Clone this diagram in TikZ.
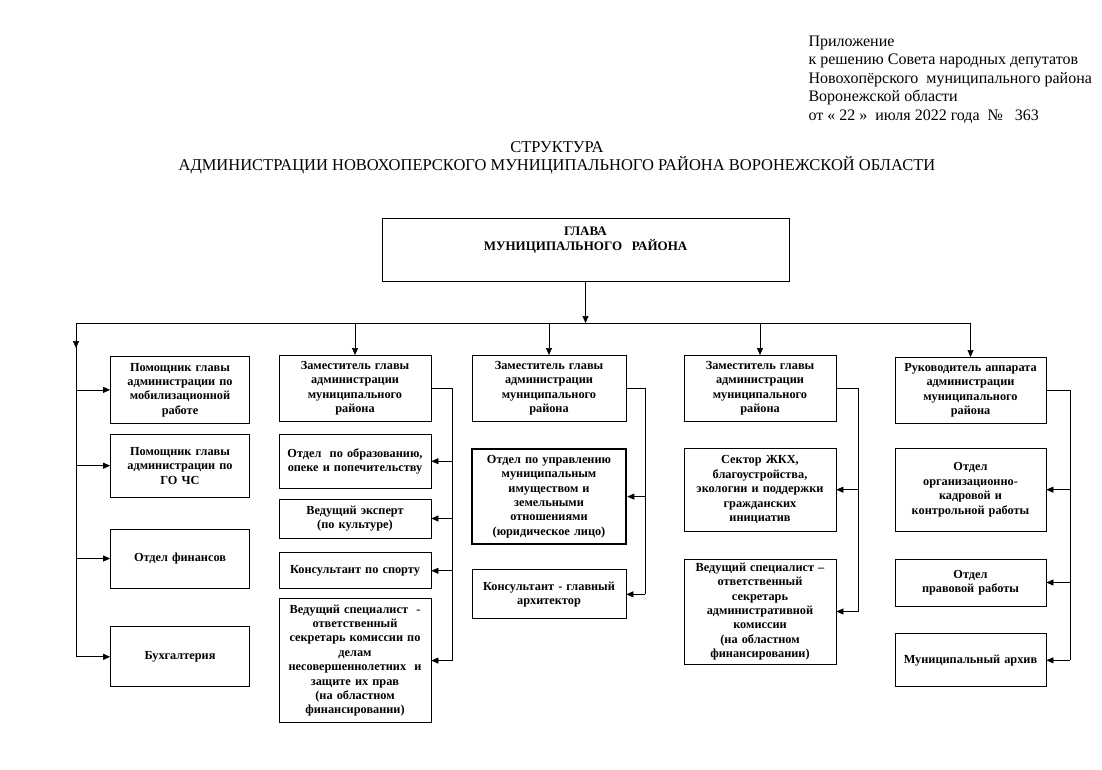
\documentclass[tikz,border=0pt]{standalone}
\usepackage{fontspec}
\setmainfont{Liberation Serif}
\usetikzlibrary{arrows.meta,positioning}

\tikzset{
  unit/.style={draw, line width=0.8pt, align=center, inner sep=2pt,
    font=\fontsize{12.3}{14.4}\selectfont\bfseries},
  narrow/.style={unit, text width=135pt},
  wide/.style={unit, text width=148pt, minimum height=66pt},
  link/.style={line width=0.7pt}
}

\begin{document}
\begin{tikzpicture}[x=1pt,y=-1pt,>={Triangle[length=7pt,width=6pt]},node distance=10pt]

\useasboundingbox (0,0) rectangle (1102,770);

\node[anchor=north west, align=left, font=\fontsize{16}{18.5}\selectfont] (prilozh) at (805,32)
  {Приложение\\к решению Совета народных депутатов\\Новохопёрского~ муниципального района\\Воронежской области\\от « 22 »~ июля 2022 года~ №~~ 363};

\node[align=center, font=\fontsize{16.5}{18}\selectfont] (titul) at (557,158)
  {СТРУКТУРА\\АДМИНИСТРАЦИИ НОВОХОПЕРСКОГО МУНИЦИПАЛЬНОГО РАЙОНА ВОРОНЕЖСКОЙ ОБЛАСТИ};

\node[draw, line width=0.8pt, minimum width=407pt, minimum height=63pt, inner sep=0pt,
  font=\fontsize{13}{15}\selectfont\bfseries] (glava) at (585.5,249.5)
  {\parbox[c][46pt][t]{400pt}{\centering ГЛАВА\\МУНИЦИПАЛЬНОГО~~ РАЙОНА}};

\node[narrow, minimum height=67pt, anchor=north] (pom1) at (180,356)
  {Помощник главы\\администрации по\\мобилизационной\\работе};
\node[narrow, minimum height=63pt, below=of pom1] (pom2)
  {Помощник главы\\администрации по\\ГО ЧС};
\node[narrow, minimum height=59pt, below=31pt of pom2] (fin) {Отдел финансов};
\node[narrow, minimum height=60pt, below=38pt of fin] (buh) {Бухгалтерия};

\node[wide, anchor=north] (zam1) at (355,355)
  {Заместитель главы\\администрации\\муниципального\\района};
\node[wide, minimum height=54pt, below=12pt of zam1] (obr)
  {Отдел~ по образованию,\\опеке и попечительству\\[5pt]};
\node[wide, minimum height=39pt, below=of obr] (kult) {Ведущий эксперт\\(по культуре)};
\node[wide, minimum height=36pt, below=14pt of kult] (sport) {Консультант по спорту};
\node[wide, minimum height=124pt, below=9pt of sport] (kdn)
  {Ведущий специалист~ -\\ответственный\\секретарь комиссии по\\делам\\несовершеннолетних~ и\\защите их прав\\(на областном\\финансировании)};

\node[wide, text width=150pt, anchor=north] (zam2) at (549,355)
  {Заместитель главы\\администрации\\муниципального\\района};
\node[wide, text width=150pt, line width=2.6pt, minimum height=95pt, below=26pt of zam2] (imush)
  {Отдел по управлению\\муниципальным\\имуществом и\\земельными\\отношениями\\(юридическое лицо)};
\node[wide, text width=150pt, minimum height=49pt, below=24pt of imush] (arhit)
  {Консультант - главный\\архитектор};

\node[wide, anchor=north] (zam3) at (760,355)
  {Заместитель главы\\администрации\\муниципального\\района};
\node[wide, minimum height=83pt, below=26pt of zam3] (zhkh)
  {Сектор ЖКХ,\\благоустройства,\\экологии и поддержки\\гражданских\\инициатив};
\node[wide, minimum height=105pt, below=27pt of zhkh] (admk)
  {Ведущий специалист –\\ответственный\\секретарь\\административной\\комиссии\\(на областном\\финансировании)};

\node[wide, text width=147pt, anchor=north] (ruk) at (970.5,357)
  {Руководитель аппарата\\администрации\\муниципального\\района};
\node[wide, text width=147pt, minimum height=83pt, below=24pt of ruk] (kadr)
  {Отдел\\организационно-\\кадровой и\\контрольной работы};
\node[wide, text width=147pt, minimum height=47pt, below=27pt of kadr] (prav)
  {Отдел\\правовой работы};
\node[wide, text width=147pt, minimum height=53pt, below=27pt of prav] (arhiv)
  {Муниципальный архив};

\coordinate (busL) at (76,323);
\draw[link] (busL) -- (ruk |- busL);
\draw[link,->] (glava) -- (glava |- busL);
\draw[link] (busL) -- (busL |- buh);
\draw[link,->] (busL) -- ++(0,25);

\path[link,->] (zam1 |- busL) edge (zam1)
               (zam2 |- busL) edge (zam2)
               (zam3 |- busL) edge (zam3)
               (ruk |- busL) edge (ruk);

\path[link,->] (busL |- pom1) edge (pom1)
               (busL |- pom2) edge (pom2)
               (busL |- fin) edge (fin)
               (busL |- buh) edge (buh);

\draw[link] (zam1.east) -- ++(21,0) coordinate (r1) -- (r1 |- kdn);
\draw[link] (zam2.east) -- ++(19,0) coordinate (r2) -- (r2 |- arhit);
\draw[link] (zam3.east) -- ++(22,0) coordinate (r3) -- (r3 |- admk);
\draw[link] (ruk.east) -- ++(24,0) coordinate (r4) -- (r4 |- arhiv);

\path[link,->] (r1 |- obr) edge (obr)
               (r1 |- kult) edge (kult)
               (r1 |- sport) edge (sport)
               (r1 |- kdn) edge (kdn)
               (r2 |- imush) edge (imush)
               (r2 |- arhit) edge (arhit)
               (r3 |- zhkh) edge (zhkh)
               (r3 |- admk) edge (admk)
               (r4 |- kadr) edge (kadr)
               (r4 |- prav) edge (prav)
               (r4 |- arhiv) edge (arhiv);

\end{tikzpicture}
\end{document}
